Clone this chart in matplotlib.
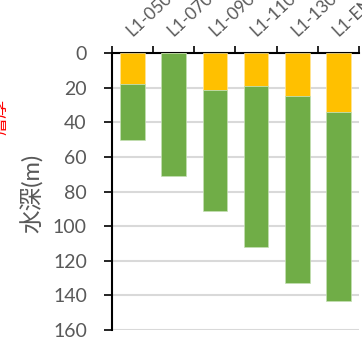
import matplotlib.pyplot as plt
import numpy as np

plt.rcParams['font.family'] = ['Lato', 'Noto Sans CJK JP', 'DejaVu Sans']

stations = ['L1-050', 'L1-070', 'L1-090', 'L1-110', 'L1-130', 'L1-END']
upper = [18, 0, 21, 19, 25, 34]        # yellow layer thickness from surface
bottom = [50, 71, 91, 112, 133, 143]   # total depth (m)

lower = [b - u for b, u in zip(bottom, upper)]
x = np.arange(len(stations))

fig = plt.figure(figsize=(3.62, 3.37), dpi=100)
ax = fig.add_axes([0.309, 0.021, 0.683, 0.821])

ax.bar(x, upper, width=0.6, color='#FFC000', edgecolor='#FFE699', linewidth=0.5, zorder=3)
ax.bar(x, lower, width=0.6, bottom=upper, color='#70AD47', edgecolor='#C5E0B4',
       linewidth=0.5, zorder=3)

ax.set_xlim(-0.5, len(stations) - 0.5)
ax.set_ylim(160, 0)
ax.set_yticks(range(0, 161, 20))
ax.yaxis.grid(True, color='#D9D9D9', linewidth=1.5, zorder=0)

ax.xaxis.tick_top()
ax.set_xticks(x)
ax.set_xticklabels(stations, rotation=43, ha='left', va='baseline',
                   rotation_mode='anchor', fontsize=12.5, color='#595959')
ax.set_xticks(np.arange(-0.5, len(stations)), minor=True)
ax.tick_params(axis='x', which='major', length=0, pad=12)
ax.tick_params(axis='x', which='minor', length=5, width=1.2, color='black', top=True)
ax.tick_params(axis='y', length=6, width=1.2, pad=12, labelsize=14, labelcolor='#595959')

for side in ['bottom', 'right']:
    ax.spines[side].set_visible(False)
for side in ['top', 'left']:
    ax.spines[side].set_linewidth(1.5)

fig.text(0.09, 0.427, '水深(m)', rotation=90, ha='center', va='center',
         fontsize=17, color='#595959')
fig.text(0.0, 0.653, '層厚', rotation=90, ha='center', va='center',
         fontsize=13, color='red')

fig.savefig('out.png', dpi=100)
